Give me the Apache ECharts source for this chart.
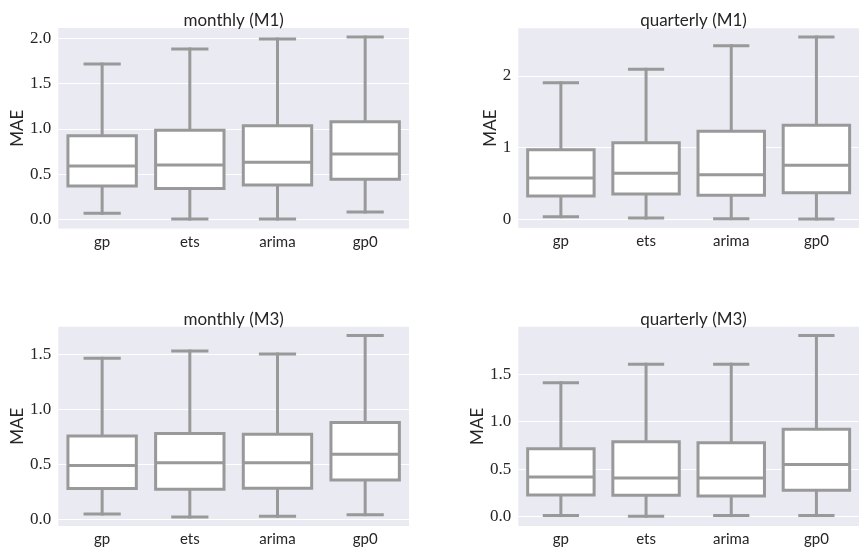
<!DOCTYPE html>
<html>
<head>
<meta charset="utf-8">
<script src="https://cdn.jsdelivr.net/npm/echarts@6/dist/echarts.min.js"></script>
<style>
html,body{margin:0;padding:0;background:#fff;}
#chart{width:859px;height:547px;}
</style>
</head>
<body>
<div id="chart"></div>
<script>
// ---- data (min, Q1, median, Q3, max) ----
const categories = ['gp', 'ets', 'arima', 'gp0'];
const titles = ['monthly (M1)', 'quarterly (M1)', 'monthly (M3)', 'quarterly (M3)'];
const monthlyM1 = [
  [0.066, 0.368, 0.589, 0.924, 1.716],
  [0.003, 0.342, 0.600, 0.983, 1.882],
  [0.003, 0.379, 0.630, 1.034, 1.992],
  [0.081, 0.442, 0.722, 1.078, 2.014]
];
const quarterlyM1 = [
  [0.036, 0.325, 0.576, 0.971, 1.905],
  [0.018, 0.353, 0.642, 1.068, 2.092],
  [0.009, 0.335, 0.622, 1.227, 2.421],
  [0.004, 0.371, 0.753, 1.311, 2.543]
];
const monthlyM3 = [
  [0.048, 0.279, 0.488, 0.758, 1.464],
  [0.021, 0.273, 0.515, 0.779, 1.530],
  [0.027, 0.282, 0.515, 0.773, 1.503],
  [0.042, 0.358, 0.591, 0.879, 1.670]
];
const quarterlyM3 = [
  [0.010, 0.227, 0.416, 0.713, 1.409],
  [0.003, 0.224, 0.406, 0.787, 1.605],
  [0.010, 0.217, 0.406, 0.776, 1.605],
  [0.010, 0.276, 0.549, 0.920, 1.906]
];
const ticksM1monthly = [0, 0.5, 1.0, 1.5, 2.0];
const ticksM1quarterly = [0, 1, 2];
const ticksM3monthly = [0, 0.5, 1.0, 1.5];
const ticksM3quarterly = [0, 0.5, 1.0, 1.5];

// ---- layout ----
const panels = [
  {data: monthlyM1,   ticks: ticksM1monthly,   dec: 1, min: -0.10, max: 2.114, grid: {left: 58.3,  top: 28.0,  width: 350.7, height: 200.4}, nameGap: 29},
  {data: quarterlyM1, ticks: ticksM1quarterly, dec: 0, min: -0.12, max: 2.664, grid: {left: 518.3, top: 28.3,  width: 350.4, height: 199.6}, nameGap: 17},
  {data: monthlyM3,   ticks: ticksM3monthly,   dec: 1, min: -0.06, max: 1.751, grid: {left: 58.3,  top: 326.7, width: 350.7, height: 199.2}, nameGap: 29},
  {data: quarterlyM3, ticks: ticksM3quarterly, dec: 1, min: -0.10, max: 2.000, grid: {left: 518.3, top: 326.7, width: 350.4, height: 200.2}, nameGap: 29}
];

const STEP = 0.02;
const EDGE = '#999999';
const TXT = '#262626';

function isMajor(v, ticks) {
  return ticks.some(t => Math.abs(v - t) < 1e-6);
}

const option = {
  animation: false,
  backgroundColor: '#ffffff',
  title: [],
  grid: [],
  xAxis: [],
  yAxis: [],
  series: []
};

panels.forEach((p, i) => {
  option.grid.push(Object.assign({show: true, backgroundColor: '#EAEAF2', borderWidth: 0, containLabel: false}, p.grid));
  option.title.push({
    text: titles[i],
    left: p.grid.left + p.grid.width / 2,
    top: p.grid.top - 16,
    textAlign: 'center',
    padding: 0,
    textStyle: {fontFamily: 'Lato', fontSize: 17, fontWeight: 'normal', color: TXT}
  });
  option.xAxis.push({
    type: 'category', gridIndex: i, data: categories,
    axisLine: {show: false}, axisTick: {show: false}, splitLine: {show: false},
    axisLabel: {fontFamily: 'Lato', fontSize: 15, color: TXT, margin: 6}
  });
  const n = Math.round((p.max - p.min) / STEP) + 3;
  const colors = [];
  for (let k = 0; k < n; k++) {
    const v = p.min + k * STEP;
    colors.push(isMajor(v, p.ticks) ? '#ffffff' : 'rgba(255,255,255,0)');
  }
  option.yAxis.push({
    type: 'value', gridIndex: i, min: p.min, max: p.max, interval: STEP,
    axisLine: {show: false}, axisTick: {show: false},
    splitLine: {show: true, lineStyle: {color: colors, width: 1}},
    axisLabel: {
      fontFamily: 'Liberation Serif', fontSize: 17, color: TXT, margin: 7,
      showMinLabel: true, showMaxLabel: true,
      formatter: v => isMajor(v, p.ticks) ? (Math.round(v / 0.5) * 0.5).toFixed(p.dec) : ''
    },
    name: 'MAE', nameLocation: 'middle', nameGap: p.nameGap,
    nameTextStyle: {fontFamily: 'Lato', fontSize: 17, color: TXT}
  });
  option.series.push({
    type: 'custom', xAxisIndex: i, yAxisIndex: i,
    encode: {x: 0, y: [1, 2, 3, 4, 5]},
    data: p.data.map((d, j) => [j].concat(d)),
    renderItem: function (params, api) {
      const idx = api.value(0);
      const band = api.size([1, 0])[0];
      const halfBox = band * 0.39;
      const halfCap = halfBox * 0.5;
      const pMin = api.coord([idx, api.value(1)]);
      const pQ1 = api.coord([idx, api.value(2)]);
      const pMed = api.coord([idx, api.value(3)]);
      const pQ3 = api.coord([idx, api.value(4)]);
      const pMax = api.coord([idx, api.value(5)]);
      const cx = pMed[0];
      const ls = {stroke: EDGE, lineWidth: 3, lineCap: 'square'};
      return {
        type: 'group',
        children: [
          {type: 'line', shape: {x1: cx, y1: pQ3[1], x2: cx, y2: pMax[1]}, style: ls},
          {type: 'line', shape: {x1: cx, y1: pQ1[1], x2: cx, y2: pMin[1]}, style: ls},
          {type: 'line', shape: {x1: cx - halfCap, y1: pMax[1], x2: cx + halfCap, y2: pMax[1]}, style: ls},
          {type: 'line', shape: {x1: cx - halfCap, y1: pMin[1], x2: cx + halfCap, y2: pMin[1]}, style: ls},
          {type: 'rect', shape: {x: cx - halfBox, y: pQ3[1], width: 2 * halfBox, height: pQ1[1] - pQ3[1]},
            style: {fill: '#ffffff', stroke: EDGE, lineWidth: 3, lineJoin: 'miter'}},
          {type: 'line', shape: {x1: cx - halfBox, y1: pMed[1], x2: cx + halfBox, y2: pMed[1]},
            style: {stroke: EDGE, lineWidth: 3, lineCap: 'butt'}}
        ]
      };
    }
  });
});

const chart = echarts.init(document.getElementById('chart'), null, {renderer: 'canvas'});
chart.setOption(option);
</script>
</body>
</html>
